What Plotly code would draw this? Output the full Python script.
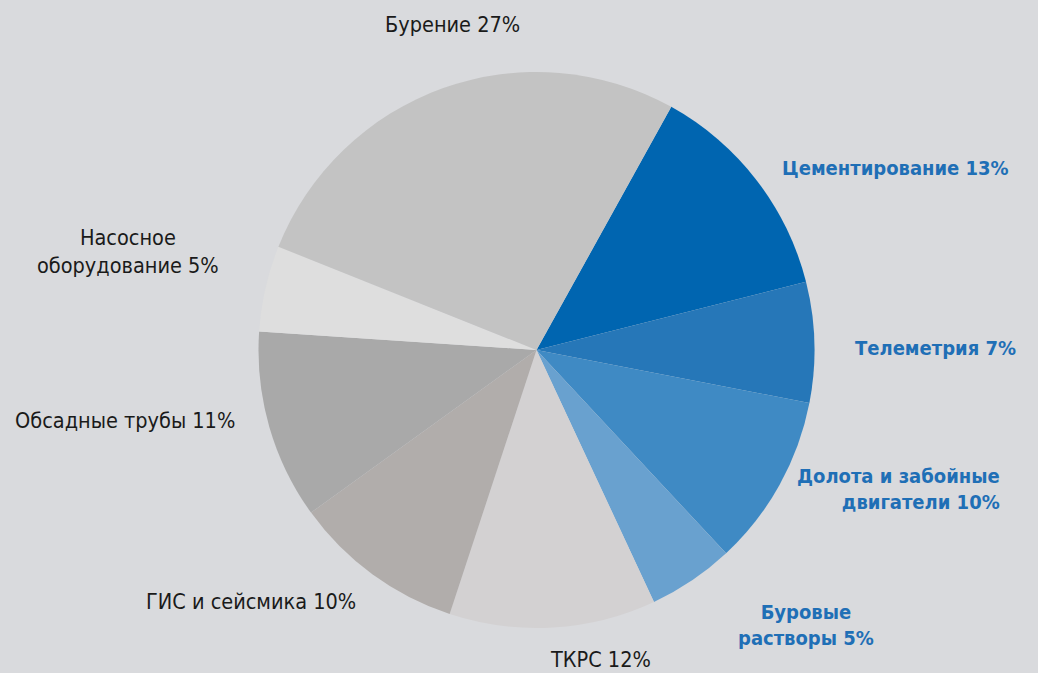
import plotly.graph_objects as go

# Market structure by segment, in percent (clockwise from the top-right)
segments = [
    "Цементирование", "Телеметрия", "Долота и забойные двигатели",
    "Буровые растворы", "ТКРС", "ГИС и сейсмика", "Обсадные трубы",
    "Насосное оборудование", "Бурение",
]
shares = [13, 7, 10, 5, 12, 10, 11, 5, 27]

# Label text as it appears around the pie (line breaks included)
label_texts = [
    "Цементирование 13%", "Телеметрия 7%", "Долота и забойные<br>двигатели 10%",
    "Буровые<br>растворы 5%", "ТКРС 12%", "ГИС и сейсмика 10%",
    "Обсадные трубы 11%", "Насосное<br>оборудование 5%", "Бурение 27%",
]

slice_colors = [
    "#0065b0", "#2677b8", "#3f8ac4", "#69a1cf",
    "#d3d1d2", "#b1adab", "#a9a9a9", "#dedede", "#c3c3c3",
]
highlighted = [True, True, True, True, False, False, False, False, False]

# Label anchor points in pixels (x, y) and horizontal alignment
label_pos = [
    (895, 168, "center"), (935, 348, "center"), (1002, 489, "right"),
    (806, 625, "center"), (600, 659, "center"), (251, 601, "center"),
    (125, 420, "center"), (128, 251, "center"), (452, 25, "center"),
]

W, H = 1038, 673
BG = "#d9dadd"
FONT = "DejaVu Sans Condensed, Liberation Sans Narrow, Roboto, sans-serif"

fig = go.Figure(
    go.Pie(
        labels=segments,
        values=shares,
        sort=False,
        direction="clockwise",
        rotation=29,
        marker=dict(colors=slice_colors, line=dict(width=0)),
        textinfo="none",
        hoverinfo="skip",
        domain=dict(x=[258 / W, 815 / W], y=[1 - 628 / H, 1 - 72 / H]),
        showlegend=False,
    )
)

for text, (px, py, align), hl in zip(label_texts, label_pos, highlighted):
    fig.add_annotation(
        x=px / W, y=1 - py / H, xref="paper", yref="paper",
        xanchor=align, yanchor="middle", align=align,
        text=f"<b>{text}</b>" if hl else text,
        showarrow=False,
        font=dict(family=FONT, size=20 if hl else 21.5,
                  color="#1f6fb6" if hl else "#1a1a1a"),
    )

fig.update_layout(
    width=W, height=H,
    margin=dict(l=0, r=0, t=0, b=0),
    paper_bgcolor=BG, plot_bgcolor=BG,
)

fig.write_html("out.html")
